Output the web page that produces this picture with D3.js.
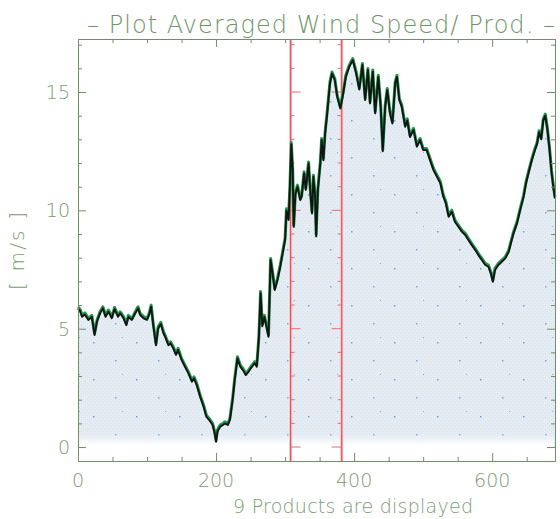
<!DOCTYPE html>
<html>
<head>
<meta charset="utf-8">
<script src="https://cdn.jsdelivr.net/npm/d3@7"></script>
<style>
  body { margin: 0; background: #fff; }
  text { font-family: "DejaVu Sans", sans-serif; font-weight: 200; }
</style>
</head>
<body>
<div id="chart"></div>
<script>
// product index (x) and averaged wind speed [m/s]
var prodIdx = [0,3,6,10,15,20,24,27.5,32,36,40,44,49,53,58,61,66,70,73,78,83,87,90,95,100,103,106,109,113,116,
  120,124,127,131,134,138,142,145,150,155,160,165,168,172,177,182,186,190,195,198,200,202,206,210,213,217,220,224,227,231,
  235,239,243,247,252,256,259,262,264.5,267,270,273,276,279,282,285,289,293,296.5,300,302,305,307,309,311,312.5,315,318,322,324,
  327.5,330,334,336,339,341,343.5,345,347.5,351,353,355.5,358,361,365,368,372,375.5,380,384,388,393,398,403,407.5,412,416,420,
  423,427,430.5,435,438.5,441.5,445,448,452,455.5,459.5,462,465.5,469,474,477,481,486,491,495.5,500,505,510,515,520,525,
  529,533,537,541.5,546,551,556,561,565.5,570.5,575.5,580,585,590,594.5,598,601,604,609,614,619,624,627,631,636,640.5,
  645.5,649,652.5,657.5,662,665,668,671,674,677,680,683,686,689,691];
var windSpeed = [5.85,5.75,5.5,5.6,5.37,5.5,4.73,5.3,5.65,5.86,5.5,5.72,5.44,5.83,5.5,5.65,5.44,5.15,5.5,5.37,5.65,5.86,5.58,5.44,5.37,5.58,5.93,5.15,4.3,5.0,
  5.2,4.8,4.6,4.3,4.38,4.17,3.89,4.1,3.68,3.39,3.11,2.76,2.9,2.62,2.12,1.7,1.28,1.14,0.93,0.58,0.22,0.65,0.86,0.93,1.0,0.93,1.14,1.99,2.83,3.75,
  3.4,3.25,3.04,3.18,3.39,3.54,3.39,4.6,6.5,5.1,5.5,5.08,4.66,7.9,7.3,6.63,7.06,7.62,8.18,8.75,10.0,9.59,11.0,12.8,11.7,9.3,10.7,11.0,10.43,10.57,
  11.56,10.86,11.98,11.0,9.87,11.42,10.57,8.9,10.86,11.98,12.97,12.12,13.25,14.1,15.36,15.78,15.5,14.8,14.3,14.9,15.64,16.07,16.35,15.78,15.1,16.14,14.66,15.93,
  14.52,15.86,14.1,15.64,14.38,12.5,14.38,15.08,14.1,13.67,15.36,15.64,14.66,14.38,13.53,13.8,13.1,13.4,12.69,12.97,12.55,12.55,12.12,11.7,11.42,11.14,
  10.6,10.29,9.73,9.94,9.52,9.31,9.10,8.96,8.75,8.53,8.32,8.11,7.9,7.69,7.62,7.34,6.98,7.48,7.69,7.83,7.97,8.25,8.6,9.03,9.45,10.0,
  10.57,11.14,11.56,12.12,12.55,12.8,13.3,13.0,13.8,14.0,13.4,12.6,11.6,10.9,10.5];

var xMajorTicks = [0, 200, 400, 600];
var yMajorTicks = [0, 5, 10, 15];
var markers = [308, 382];   // red selection lines

var data = prodIdx.map(function(d, i) { return {x: d, v: windSpeed[i]}; });

var W = 560, H = 519;
var axisCol = "#6f8f66", txtCol = "#7c9a72";

var svg = d3.select("#chart").append("svg")
  .attr("width", W).attr("height", H);

var x = d3.scaleLinear().domain([0, 691]).range([78, 555]);
var y = d3.scaleLinear().domain([-0.59, 17.24]).range([461, 39]);

// stipple pattern for the area
var defs = svg.append("defs");
var pat = defs.append("pattern").attr("id", "stip")
  .attr("patternUnits", "userSpaceOnUse").attr("width", 4).attr("height", 4);
pat.append("rect").attr("width", 4).attr("height", 4).attr("fill", "#e5ecf4");
pat.append("rect").attr("x", 1).attr("y", 1).attr("width", 1).attr("height", 1).attr("fill", "#d2dde9");
pat.append("rect").attr("x", 3).attr("y", 3).attr("width", 1).attr("height", 1).attr("fill", "#d7e1ec");
var pat2 = defs.append("pattern").attr("id", "specks")
  .attr("patternUnits", "userSpaceOnUse").attr("width", 43).attr("height", 37);
pat2.append("rect").attr("x", 7).attr("y", 9).attr("width", 1.5).attr("height", 1.5).attr("fill", "#6f9fd6");
pat2.append("rect").attr("x", 29).attr("y", 27).attr("width", 1.5).attr("height", 1.5).attr("fill", "#7aa8dc");
pat2.append("rect").attr("x", 36).attr("y", 4).attr("width", 1).attr("height", 1).attr("fill", "#8bb2df");

var fade = defs.append("linearGradient").attr("id", "fade")
  .attr("x1", 0).attr("y1", 0).attr("x2", 0).attr("y2", 1);
fade.append("stop").attr("offset", 0).attr("stop-color", "#fff").attr("stop-opacity", 0);
fade.append("stop").attr("offset", 0.45).attr("stop-color", "#fff").attr("stop-opacity", 1);
fade.append("stop").attr("offset", 1).attr("stop-color", "#fff").attr("stop-opacity", 1);

var area = d3.area().x(function(d) { return x(d.x); })
  .y0(y(0)).y1(function(d) { return y(d.v); });
svg.append("path").datum(data).attr("d", area).attr("fill", "url(#stip)");
svg.append("path").datum(data).attr("d", area).attr("fill", "url(#specks)");
// white band at the bottom of the plot
svg.append("rect").attr("x", 79).attr("y", 434).attr("width", 475).attr("height", 26)
  .attr("fill", "url(#fade)");

// red marker lines with little ticks
markers.forEach(function(m, k) {
  var dir = k === 0 ? 1 : -1;
  svg.append("line").attr("x1", x(m)).attr("x2", x(m)).attr("y1", 39).attr("y2", 461)
    .attr("stroke", "#f6c5c8").attr("stroke-width", 3);
  svg.append("line").attr("x1", x(m)).attr("x2", x(m)).attr("y1", 39).attr("y2", 461)
    .attr("stroke", "#e8505a").attr("stroke-width", 1.2);
  svg.selectAll(".mt" + k).data(d3.range(0, 18)).enter().append("line")
    .attr("x1", x(m)).attr("x2", function(d) { return x(m) + dir * (d % 5 === 0 ? 10 : 4); })
    .attr("y1", function(d) { return y(d); }).attr("y2", function(d) { return y(d); })
    .attr("stroke", "#ec6a72").attr("stroke-width", 1);
});

// the curve: green halo then black line
var line = d3.line().x(function(d) { return x(d.x); }).y(function(d) { return y(d.v); });
svg.append("path").datum(data).attr("d", line)
  .attr("transform", "translate(0,-1.6)")
  .attr("fill", "none").attr("stroke", "#1f9a4c").attr("stroke-width", 3)
  .attr("stroke-linejoin", "round");
svg.append("path").datum(data).attr("d", line)
  .attr("fill", "none").attr("stroke", "#141414").attr("stroke-width", 1.9)
  .attr("stroke-linejoin", "round");

// axes: ticks point inward, box all around
function styleAxis(g) {
  g.selectAll("path, line").attr("stroke", axisCol);
  g.select(".domain").attr("stroke-width", 1);
}
var xMinor = d3.range(0, 691, 50).filter(function(d) { return d % 200 !== 0; });
var yMinor = d3.range(0, 18).filter(function(d) { return d % 5 !== 0; });

svg.append("g").attr("transform", "translate(0,461)")
  .call(d3.axisBottom(x).tickValues(xMajorTicks).tickSize(-8).tickSizeOuter(0).tickFormat(""))
  .call(styleAxis);
svg.append("g").attr("transform", "translate(0,461)")
  .call(d3.axisBottom(x).tickValues(xMinor).tickSize(-4).tickSizeOuter(0).tickFormat(""))
  .call(styleAxis);
svg.append("g").attr("transform", "translate(0,39)")
  .call(d3.axisTop(x).tickValues(xMajorTicks).tickSize(-8).tickSizeOuter(0).tickFormat(""))
  .call(styleAxis);
svg.append("g").attr("transform", "translate(0,39)")
  .call(d3.axisTop(x).tickValues(xMinor).tickSize(-4).tickSizeOuter(0).tickFormat(""))
  .call(styleAxis);
svg.append("g").attr("transform", "translate(78,0)")
  .call(d3.axisLeft(y).tickValues(yMajorTicks).tickSize(-8).tickSizeOuter(0).tickFormat(""))
  .call(styleAxis);
svg.append("g").attr("transform", "translate(78,0)")
  .call(d3.axisLeft(y).tickValues(yMinor).tickSize(-4).tickSizeOuter(0).tickFormat(""))
  .call(styleAxis);
svg.append("g").attr("transform", "translate(555,0)")
  .call(d3.axisRight(y).tickValues(yMajorTicks).tickSize(-8).tickSizeOuter(0).tickFormat(""))
  .call(styleAxis);
svg.append("g").attr("transform", "translate(555,0)")
  .call(d3.axisRight(y).tickValues(yMinor).tickSize(-4).tickSizeOuter(0).tickFormat(""))
  .call(styleAxis);

// tick labels
svg.selectAll(".xl").data(xMajorTicks).enter().append("text")
  .attr("x", function(d) { return x(d); }).attr("y", 487)
  .attr("text-anchor", "middle").attr("fill", txtCol).style("font-size", "19px")
  .text(function(d) { return d; });
svg.selectAll(".yl").data(yMajorTicks).enter().append("text")
  .attr("x", 70).attr("y", function(d) { return y(d) + 7; })
  .attr("text-anchor", "end").attr("fill", txtCol).style("font-size", "19px")
  .text(function(d) { return d; });

// titles
svg.append("text").attr("x", 321).attr("y", 33).attr("text-anchor", "middle")
  .attr("fill", "#6e9465").style("font-size", "24px")
  .attr("textLength", 468).attr("lengthAdjust", "spacing")
  .text("\u2013 Plot Averaged Wind Speed/ Prod. \u2013");
svg.append("text").attr("x", 353).attr("y", 513).attr("text-anchor", "middle")
  .attr("fill", txtCol).style("font-size", "19px")
  .attr("textLength", 240).attr("lengthAdjust", "spacing")
  .text("9 Products are displayed");
svg.append("text").attr("transform", "translate(24,251) rotate(-90)")
  .attr("text-anchor", "middle").attr("fill", txtCol).style("font-size", "20px")
  .attr("textLength", 78).attr("lengthAdjust", "spacing")
  .text("[ m/s ]");
</script>
</body>
</html>
